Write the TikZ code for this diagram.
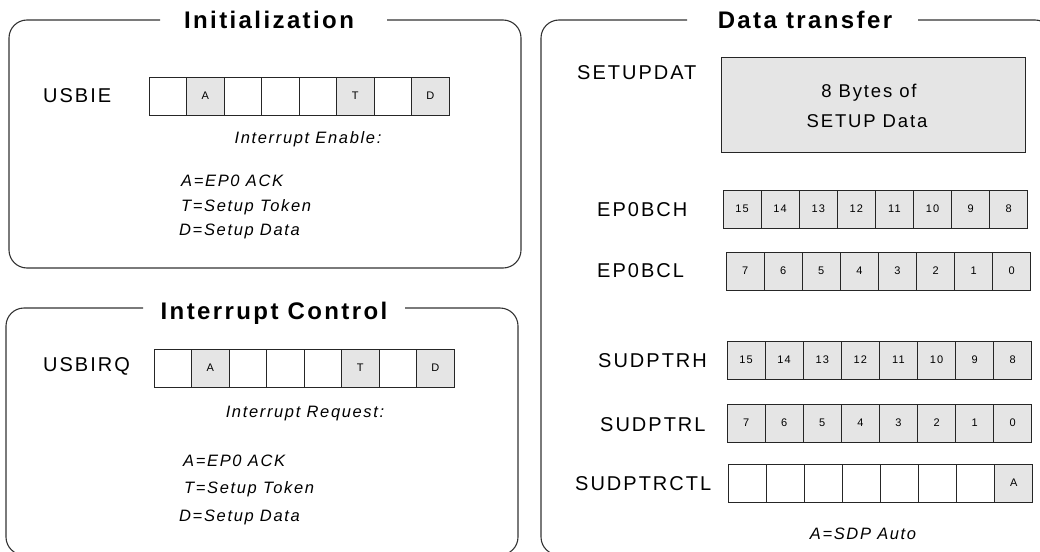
\documentclass[tikz,border=0pt]{standalone}
\usepackage{fontspec}
\setmainfont{Liberation Sans}[LetterSpace=10]
\begin{document}
\begin{tikzpicture}[x=1pt,y=-1pt]

    \tikzset{
      frame/.style={draw=black!80, line width=1.1pt, rounded corners=18pt},
      bitcell/.style={draw=black!85, line width=0.7pt, inner sep=0pt,
        minimum height=38pt, font=\fontsize{11}{13}\selectfont},
      reglabel/.style={inner sep=0pt, anchor=base west, text=black,
        font=\fontsize{20}{24}\selectfont},
      boxtitle/.style={inner sep=0pt, anchor=base, text=black,
        font=\fontsize{24}{28}\selectfont\bfseries},
      note/.style={inner sep=0pt, text=black,
        font=\fontsize{16.5}{20}\selectfont\itshape},
    }
    \useasboundingbox (0,0) rectangle (1040,551);
    \clip (0,0) rectangle (1040,551);

    % frames, open where the title sits
    \draw[frame] (387,20) -- (521,20) -- (521,268) -- (9,268) -- (9,20) -- (160,20);
    \draw[frame] (405,308) -- (518,308) -- (518,555) -- (6,555) -- (6,308) -- (143,308);
    \draw[frame] (918,20) -- (1053,20) -- (1053,555) -- (541,555) -- (541,20) -- (687,20);
    \node[boxtitle] (init) at (269,29) {Initialization};
    \node[boxtitle] (irqctl) at (274,319) {Interrupt Control};
    \node[boxtitle] (xfer) at (805,29) {Data transfer};

    % Initialization
    \node[reglabel] (usbie) at (43,102) {USBIE};
    \foreach \b/\c [count=\i] in { /white, A/gray!20, /white, /white, /white, T/gray!20, /white, D/gray!20}
      \node[bitcell, minimum width=37.5pt, fill=\c] (ie\i) at (149+37.5*\i-18.75,96) {\b};
    \node[note, anchor=base] (ienote) at (308,143) {Interrupt Enable:};
    \node[note, anchor=base west] (iea) at (181,186) {A=EP0 ACK};
    \node[note, anchor=base west] (iet) at (181,211) {T=Setup Token};
    \node[note, anchor=base west] (ied) at (179,235) {D=Setup Data};

    % Interrupt Control
    \node[reglabel] (usbirq) at (43,371) {USBIRQ};
    \foreach \b/\c [count=\i] in { /white, A/gray!20, /white, /white, /white, T/gray!20, /white, D/gray!20}
      \node[bitcell, minimum width=37.5pt, fill=\c] (irq\i) at (154+37.5*\i-18.75,368) {\b};
    \node[note, anchor=base] (irqnote) at (305,417) {Interrupt Request:};
    \node[note, anchor=base west] (irqa) at (183,466) {A=EP0 ACK};
    \node[note, anchor=base west] (irqt) at (184,493) {T=Setup Token};
    \node[note, anchor=base west] (irqd) at (179,521) {D=Setup Data};

    % Data transfer
    \node[reglabel] (setupdat) at (577,79) {SETUPDAT};
    \node[draw=black!85, line width=0.8pt, fill=gray!20, minimum width=304pt,
      minimum height=95pt] (setupbox) at (873,104.5) {};
    \node[reglabel, anchor=base, font=\fontsize{18.5}{22}\selectfont] (bytes) at (869,97) {8 Bytes of};
    \node[reglabel, anchor=base, font=\fontsize{18.5}{22}\selectfont] (setupdata) at (867,127) {SETUP Data};

    \node[reglabel] (ep0bch) at (597,216) {EP0BCH};
    \foreach \b [count=\i] in {15,14,13,12,11,10,9,8}
      \node[bitcell, minimum width=38.1pt, fill=gray!20] (bch\i) at (723+38.1*\i-19.05,209) {\b};
    \node[reglabel] (ep0bcl) at (597,277) {EP0BCL};
    \foreach \b [count=\i] in {7,6,5,4,3,2,1,0}
      \node[bitcell, minimum width=38.1pt, fill=gray!20] (bcl\i) at (726+38.1*\i-19.05,271) {\b};

    \node[reglabel] (sudptrh) at (598,367) {SUDPTRH};
    \foreach \b [count=\i] in {15,14,13,12,11,10,9,8}
      \node[bitcell, minimum width=38.1pt, fill=gray!20] (sph\i) at (727+38.1*\i-19.05,360) {\b};
    \node[reglabel] (sudptrl) at (600,431) {SUDPTRL};
    \foreach \b [count=\i] in {7,6,5,4,3,2,1,0}
      \node[bitcell, minimum width=38.1pt, fill=gray!20] (spl\i) at (727+38.1*\i-19.05,423) {\b};
    \node[reglabel] (sudptrctl) at (575,490) {SUDPTRCTL};
    \foreach \b/\c [count=\i] in { /white, /white, /white, /white, /white, /white, /white, A/gray!20}
      \node[bitcell, minimum width=38.1pt, fill=\c] (spc\i) at (728+38.1*\i-19.05,483) {\b};
    \node[note, anchor=base] (sdpnote) at (863,539) {A=SDP Auto};

\end{tikzpicture}
\end{document}
